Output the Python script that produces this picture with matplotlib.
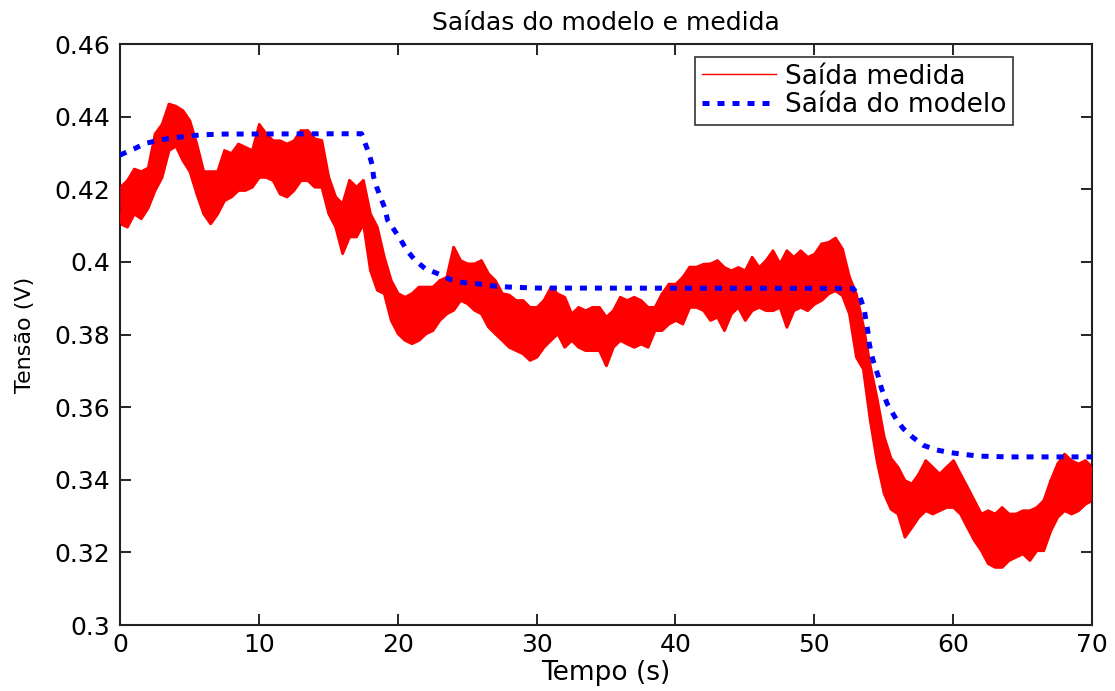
import numpy as np
import matplotlib
matplotlib.use('Agg')
import matplotlib.pyplot as plt
from matplotlib.ticker import FixedLocator, FuncFormatter

plt.rcParams['font.family'] = ['DejaVu Sans']

# --- measured output: upper / lower envelope of the noisy trace, read every 0.5 s
t_medida = np.arange(0, 70.01, 0.5)
medida_sup = [
    0.4207, 0.4225, 0.4257, 0.4250, 0.4260, 0.4354, 0.4380, 0.4436, 0.4430, 0.4418,
    0.4390, 0.4326, 0.4250, 0.4250, 0.4250, 0.4308, 0.4300, 0.4326, 0.4317, 0.4308,
    0.4380, 0.4354, 0.4335, 0.4335, 0.4326, 0.4335, 0.4363, 0.4363, 0.4340,
    0.4336, 0.4235, 0.4180, 0.4161, 0.4226, 0.4207, 0.4226, 0.4134, 0.4097, 0.4015,
    0.3950, 0.3914, 0.3904, 0.3914, 0.3932, 0.3932, 0.3932, 0.3950, 0.3959, 0.4042,
    0.4005, 0.3996, 0.3996, 0.4005, 0.3969, 0.3950, 0.3914, 0.3910,
    0.3895, 0.3895, 0.3876, 0.3876, 0.3895, 0.3931, 0.3913, 0.3904, 0.3858, 0.3876,
    0.3867, 0.3876, 0.3876, 0.3849, 0.3867, 0.3904, 0.3895, 0.3904, 0.3895, 0.3876,
    0.3876, 0.3913, 0.3940, 0.3940, 0.3959, 0.3987, 0.3987, 0.3995,
    0.3996, 0.4005, 0.3986, 0.3977, 0.3986, 0.3977, 0.4014, 0.3986, 0.4005, 0.4032,
    0.3996, 0.4032, 0.4014, 0.4032, 0.4014, 0.4023, 0.4051, 0.4055, 0.4067, 0.4037,
    0.3960, 0.3913, 0.3826, 0.3716, 0.3624, 0.3520, 0.3460, 0.3436,
    0.3399, 0.3390, 0.3417, 0.3454, 0.3436, 0.3417, 0.3436, 0.3454, 0.3417, 0.3381,
    0.3344, 0.3307, 0.3316, 0.3307, 0.3325, 0.3307, 0.3307, 0.3316, 0.3316, 0.3325,
    0.3344, 0.3399, 0.3445, 0.3472, 0.3454, 0.3445, 0.3454, 0.3436,
]
medida_inf = [
    0.4106, 0.4097, 0.4133, 0.4120, 0.4150, 0.4198, 0.4234, 0.4308, 0.4320, 0.4280,
    0.4250, 0.4188, 0.4133, 0.4106, 0.4133, 0.4170, 0.4180, 0.4198, 0.4198, 0.4207,
    0.4234, 0.4234, 0.4225, 0.4188, 0.4180, 0.4198, 0.4225, 0.4225, 0.4207,
    0.4207, 0.4134, 0.4097, 0.4024, 0.4070, 0.4070, 0.4106, 0.3978, 0.3923, 0.3914,
    0.3840, 0.3803, 0.3785, 0.3776, 0.3785, 0.3803, 0.3812, 0.3840, 0.3858, 0.3868,
    0.3895, 0.3886, 0.3868, 0.3858, 0.3822, 0.3803, 0.3785, 0.3766,
    0.3757, 0.3748, 0.3730, 0.3739, 0.3766, 0.3785, 0.3803, 0.3766, 0.3785, 0.3766,
    0.3757, 0.3757, 0.3757, 0.3715, 0.3766, 0.3785, 0.3775, 0.3766, 0.3775, 0.3766,
    0.3812, 0.3812, 0.3830, 0.3840, 0.3830, 0.3876, 0.3876, 0.3867,
    0.3840, 0.3849, 0.3812, 0.3858, 0.3876, 0.3840, 0.3867, 0.3876, 0.3867, 0.3867,
    0.3876, 0.3821, 0.3867, 0.3876, 0.3867, 0.3885, 0.3895, 0.3913, 0.3922, 0.3908,
    0.3858, 0.3739, 0.3706, 0.3564, 0.3450, 0.3363, 0.3320, 0.3307,
    0.3243, 0.3270, 0.3298, 0.3316, 0.3307, 0.3316, 0.3325, 0.3325, 0.3307, 0.3270,
    0.3234, 0.3206, 0.3170, 0.3160, 0.3160, 0.3179, 0.3188, 0.3197, 0.3179, 0.3206,
    0.3206, 0.3260, 0.3298, 0.3316, 0.3307, 0.3316, 0.3334, 0.3344,
]

# --- model output
t_modelo = [0, 0.5, 1.0, 1.8, 2.8, 3.7, 4.8, 5.9, 7.5, 17.4, 17.65, 17.9, 18.17,
            18.26, 18.48, 18.79, 19.08, 19.27, 19.75, 20.23, 20.64, 21.24, 21.96,
            22.8, 23.76, 24.72, 25.68, 26.76, 27.84, 30.0, 52.8, 53.29, 53.6, 53.72,
            53.87, 53.96, 54.13, 54.35, 54.62, 54.85, 55.25, 55.55, 55.93, 56.41,
            57.13, 57.85, 58.81, 59.77, 60.73, 61.93, 64.0, 70.0]
v_modelo = [0.4294, 0.4303, 0.4311, 0.4326, 0.4335, 0.4341, 0.4346, 0.4350, 0.4352,
            0.4353, 0.4327, 0.4302, 0.4267, 0.4235, 0.4207, 0.4175, 0.4148, 0.4115,
            0.4088, 0.4060, 0.4033, 0.4005, 0.3982, 0.3969, 0.3952, 0.3943, 0.3940,
            0.3934, 0.3931, 0.3928, 0.3927, 0.3903, 0.3870, 0.3840, 0.3807, 0.3776,
            0.3743, 0.3715, 0.3684, 0.3651, 0.3610, 0.3590, 0.3565, 0.3541, 0.3516,
            0.3495, 0.3482, 0.3475, 0.3470, 0.3465, 0.3463, 0.3463]

x_ticks = [0, 10, 20, 30, 40, 50, 60, 70]
y_ticks = [0.30, 0.32, 0.34, 0.36, 0.38, 0.40, 0.42, 0.44, 0.46]

fig = plt.figure(figsize=(11.15, 6.91), dpi=100)
ax = fig.add_axes([0.1076, 0.0955, 0.8717, 0.8408])

# noisy measured trace: band between envelopes plus a zigzag line through them
ax.fill_between(t_medida, medida_inf, medida_sup, color='red', linewidth=2,
                edgecolor='red', zorder=2)
t_zig = np.repeat(t_medida, 2)
v_zig = np.column_stack([medida_sup, medida_inf]).ravel()
ax.plot(t_zig, v_zig, color='red', linewidth=1, label='Saída medida', zorder=3)

ax.plot(t_modelo, v_modelo, color='blue', linewidth=3.6, dashes=(1.4, 1.6),
        dash_capstyle='butt', label='Saída do modelo', zorder=4)

ax.set_xlim(0, 70)
ax.set_ylim(0.3, 0.46)
ax.xaxis.set_major_locator(FixedLocator(x_ticks))
ax.yaxis.set_major_locator(FixedLocator(y_ticks))
ax.yaxis.set_major_formatter(FuncFormatter(lambda v, p: f'{v:.2f}'.rstrip('0')))
ax.tick_params(direction='in', length=8, width=1.2, top=True, right=True,
               labelsize=18, colors='black')
ax.tick_params(axis='x', pad=6)
ax.tick_params(axis='y', pad=7)
for s in ax.spines.values():
    s.set_linewidth(1.5)
    s.set_color('#222222')

ax.set_title('Saídas do modelo e medida', fontsize=18, pad=10)
ax.set_xlabel('Tempo (s)', fontsize=19, labelpad=2)
ax.set_ylabel('Tensão (V)', fontsize=16)
ax.yaxis.set_label_coords(-0.087, 0.5)

leg = ax.legend(loc='upper right', bbox_to_anchor=(0.9187, 0.9776), fontsize=19,
                frameon=True, fancybox=False, handlelength=2.8, borderpad=0.25,
                labelspacing=0.1, handletextpad=0.35, borderaxespad=0)
leg.get_frame().set_edgecolor('black')
leg.get_frame().set_linewidth(1.2)

fig.savefig('out.png', dpi=100)
